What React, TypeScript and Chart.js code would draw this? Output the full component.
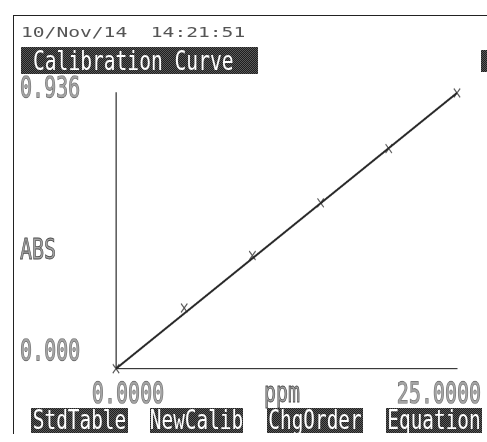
import React, { useEffect, useRef } from 'react';
import { Chart, registerables } from 'chart.js';

Chart.register(...registerables);

// ---- data ----
const concentrations = [0, 5, 10, 15, 20, 25];
const absorbances = [0, 0.206, 0.384, 0.563, 0.747, 0.936];
const fitX = [0, 25];
const fitY = [0, 0.936];
const xTickValues = [0, 25];
const xTickLabels = ['  0.0000', '25.0000   '];
const yTickValues = [0, 0.936];
const yTickLabels = ['0.000', '0.936'];
const headerDate = '10/Nov/14  14:21:51';
const chartTitle = 'Calibration Curve';
const yAxisTitle = 'ABS';
const xAxisTitle = 'ppm';
const softKeys = ['StdTable', 'NewCalib', 'ChgOrder', 'Equation'];

// ---- layout (not data) ----
const softKeyBoxes = [
  { left: 31, width: 97 },
  { left: 150, width: 93 },
  { left: 267, width: 96 },
  { left: 386, width: 96 },
];

const W = 487;
const H = 442;
const SY = 1.4; // vertical stretch of the tall LCD-style font
const LH = Math.round(H / SY); // logical canvas height
const plotTop = 93 / SY;
const plotBottom = 369 / SY;

const MONO = "'DejaVu Sans Mono', 'Liberation Mono', monospace";
const dither = 'repeating-conic-gradient(#1e1e1e 0% 25%, #5a5a5a 0% 50%) 0 0 / 2px 2px';
const TXT = '#a4a4a4';
const TXT_STROKE = '#4c4c4c';

export default function App() {
  const canvasRef = useRef<HTMLCanvasElement | null>(null);

  useEffect(() => {
    const canvas = canvasRef.current;
    if (!canvas) return;
    const chart = new Chart(canvas, {
      type: 'scatter',
      data: {
        datasets: [
          {
            data: fitX.map((x, i) => ({ x, y: fitY[i] })),
            showLine: true,
            borderColor: '#262626',
            borderWidth: 1.5,
            pointRadius: 0,
            clip: false,
          } as any,
          {
            data: concentrations.map((x, i) => ({ x, y: absorbances[i] })),
            showLine: false,
            pointStyle: 'crossRot',
            pointRadius: 4.5,
            pointBorderColor: '#555',
            pointBorderWidth: 1,
            pointBackgroundColor: '#555',
            clip: false,
          } as any,
        ],
      },
      options: {
        animation: false,
        responsive: false,
        devicePixelRatio: 2,
        events: [],
        layout: { padding: { left: 20, top: plotTop, right: 30, bottom: 0 } },
        plugins: {
          legend: { display: false },
          tooltip: { enabled: false },
          title: { display: false },
        },
        scales: {
          x: {
            type: 'linear',
            min: xTickValues[0],
            max: xTickValues[xTickValues.length - 1],
            afterBuildTicks: (s: any) => {
              s.ticks = xTickValues.map((v) => ({ value: v }));
            },
            afterFit: (s: any) => {
              s.height = LH - plotBottom;
              s.paddingLeft = 0;
              s.paddingRight = 0;
            },
            grid: { display: false, drawTicks: false },
            border: { display: true, color: '#3a3a3a', width: 1 },
            ticks: {
              autoSkip: false,
              maxRotation: 0,
              minRotation: 0,
              padding: 7.2,
              font: { family: MONO, size: 20 },
              color: TXT,
              textStrokeColor: TXT_STROKE,
              textStrokeWidth: 0.7,
              callback: (v: any) => xTickLabels[xTickValues.indexOf(Number(v))] ?? '',
            },
          },
          y: {
            type: 'linear',
            min: yTickValues[0],
            max: yTickValues[yTickValues.length - 1],
            afterBuildTicks: (s: any) => {
              s.ticks = yTickValues.map((v) => ({ value: v }));
            },
            afterFit: (s: any) => {
              s.width = 96;
              s.paddingTop = 0;
              s.paddingBottom = 0;
            },
            grid: { display: false, drawTicks: false },
            border: { display: true, color: '#3a3a3a', width: 1.3 },
            ticks: {
              autoSkip: false,
              crossAlign: 'far',
              labelOffset: -1.9,
              padding: 0,
              font: { family: MONO, size: 20, lineHeight: 0.93 },
              color: TXT,
              textStrokeColor: TXT_STROKE,
              textStrokeWidth: 0.7,
              callback: (v: any) => {
                const i = yTickValues.indexOf(Number(v));
                const lbl = yTickLabels[i] ?? '';
                return Number(v) === 0 ? [lbl, ''] : lbl;
              },
            },
          },
        },
      } as any,
    });
    return () => chart.destroy();
  }, []);

  const hollow: React.CSSProperties = {
    fontFamily: MONO,
    fontSize: 20,
    lineHeight: '20px',
    color: TXT,
    WebkitTextStroke: `0.6px ${TXT_STROKE}`,
    whiteSpace: 'pre',
    position: 'absolute',
    transform: `scaleY(${SY})`,
    transformOrigin: 'left top',
  };

  const keyText: React.CSSProperties = {
    fontFamily: MONO,
    fontSize: 19.4,
    lineHeight: '19.4px',
    color: '#ffffff',
    whiteSpace: 'pre',
    transform: 'scaleY(1.35)',
    transformOrigin: 'center center',
  };

  return (
    <div
      style={{
        position: 'fixed',
        left: 0,
        top: 0,
        width: W,
        height: H,
        background: '#ffffff',
        overflow: 'hidden',
      }}
    >
      <div
        style={{
          position: 'absolute',
          left: 0,
          top: 0,
          width: W,
          height: LH,
          transform: `scaleY(${H / LH})`,
          transformOrigin: 'left top',
        }}
      >
        <canvas ref={canvasRef} width={W} height={LH} />
      </div>
      {/* frame */}
      <div style={{ position: 'absolute', left: 13, top: 15, width: 474, height: 0, borderTop: '1.5px solid #222' }} />
      <div style={{ position: 'absolute', left: 13, top: 15, width: 0, height: 419, borderLeft: '1.5px solid #222' }} />
      {/* date */}
      <div
        style={{
          position: 'absolute',
          left: 21,
          top: 25,
          fontFamily: MONO,
          fontSize: 14,
          lineHeight: '14px',
          color: '#555',
          whiteSpace: 'pre',
          transform: 'scaleX(1.4)',
          transformOrigin: 'left top',
        }}
      >
        {headerDate}
      </div>
      {/* title box */}
      <div
        style={{
          position: 'absolute',
          left: 21,
          top: 47,
          width: 237,
          height: 27,
          background: dither,
          display: 'flex',
          alignItems: 'center',
          justifyContent: 'flex-start',
          paddingLeft: 12,
          boxSizing: 'border-box',
        }}
      >
        <span style={{ ...keyText, fontSize: 19.6, transform: 'scaleY(1.4)' }}>{chartTitle}</span>
      </div>
      {/* little status icon */}
      <div style={{ position: 'absolute', left: 481, top: 50, width: 6, height: 22, background: dither }} />
      {/* axis titles */}
      <div style={{ ...hollow, left: 20, top: 235 }}>{yAxisTitle}</div>
      <div style={{ ...hollow, left: 264, top: 378 }}>{xAxisTitle}</div>
      {/* soft keys */}
      {softKeys.map((k, i) => (
        <div
          key={k}
          style={{
            position: 'absolute',
            left: softKeyBoxes[i].left,
            top: 408,
            width: softKeyBoxes[i].width,
            height: 25,
            background: dither,
            display: 'flex',
            alignItems: 'center',
            justifyContent: 'center',
          }}
        >
          <span style={keyText}>{k}</span>
        </div>
      ))}
    </div>
  );
}
